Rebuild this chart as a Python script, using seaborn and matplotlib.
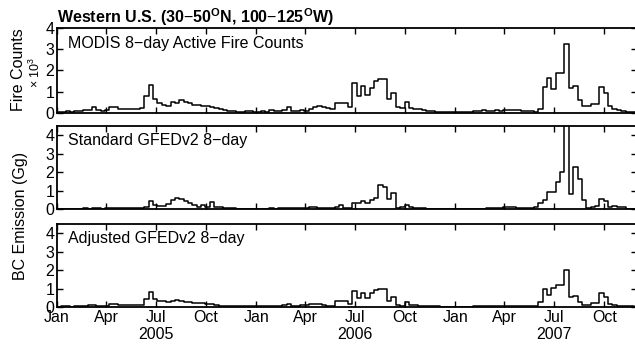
import matplotlib
matplotlib.use("Agg")
import numpy as np
import pandas as pd
import seaborn as sns
import matplotlib.pyplot as plt

# 8-day composites starting Jan 1 of each year (46 per year, 2007 shown to late Nov)
years = [2005, 2006, 2007]

# MODIS active fire counts (x 10^3)
fire_2005 = [0.03, 0.06, 0.08, 0.06, 0.08, 0.1, 0.12, 0.15, 0.26, 0.12, 0.08, 0.12,
             0.3, 0.28, 0.2, 0.2, 0.2, 0.2, 0.2, 0.22,
             0.82, 1.3, 0.65, 0.45, 0.4, 0.35, 0.5, 0.45, 0.62, 0.5, 0.45, 0.4,
             0.38, 0.35, 0.33, 0.3,
             0.25, 0.2, 0.15, 0.1, 0.08, 0.06, 0.05, 0.08, 0.1, 0.05]
fire_2006 = [0.05, 0.1, 0.05, 0.12, 0.08, 0.1, 0.12, 0.3, 0.1, 0.1, 0.12, 0.1,
             0.2, 0.3, 0.33, 0.28, 0.25, 0.2,
             0.48, 0.48, 0.48, 0.3,
             1.41, 0.78, 1.29, 0.86, 1.19, 1.49, 1.6, 1.6, 0.65, 0.95, 0.3, 0.23,
             0.5, 0.25,
             0.2, 0.18, 0.12, 0.1, 0.08, 0.05, 0.04, 0.03, 0.03, 0.03]
fire_2007 = [0.03, 0.03, 0.03, 0.03, 0.08, 0.08, 0.15, 0.08, 0.08, 0.12, 0.08, 0.12,
             0.12, 0.15, 0.15, 0.08, 0.08, 0.08, 0.05, 0.2,
             1.22, 1.65, 1.13, 1.86, 1.86, 3.27, 1.17, 1.29, 0.62, 0.33, 0.33, 0.43,
             0.43, 1.22, 0.94, 0.33,
             0.2, 0.12, 0.08, 0.05, 0.03, 0.03]

# Standard GFEDv2 BC emission (Gg)
std_2005 = [0.01, 0.01, 0.02, 0.01, 0.02, 0.02, 0.03, 0.02, 0.05, 0.03, 0.02, 0.05,
            0.06, 0.04, 0.03, 0.04, 0.04, 0.05, 0.06, 0.08, 0.1,
            0.45, 0.2, 0.15, 0.15, 0.25, 0.48, 0.58, 0.55, 0.45, 0.35, 0.22, 0.13,
            0.22, 0.13, 0.4, 0.1, 0.1, 0.08, 0.05,
            0.03, 0.02, 0.02, 0.02, 0.02, 0.02]
std_2006 = [0.02, 0.02, 0.02, 0.03, 0.02, 0.05, 0.03, 0.08, 0.05, 0.03,
            0.05, 0.05, 0.12, 0.12, 0.05, 0.05, 0.05, 0.05, 0.12, 0.2, 0.05, 0.05,
            0.3, 0.34, 0.45, 0.34, 0.48, 0.58, 1.3, 1.17, 0.52, 0.85, 0.04, 0.1,
            0.22, 0.1,
            0.06, 0.05, 0.03, 0.02, 0.02, 0.02, 0.01, 0.01, 0.01, 0.01]
std_2007 = [0.01, 0.01, 0.01, 0.01, 0.01, 0.02, 0.02, 0.07, 0.03, 0.05, 0.03, 0.12,
            0.12, 0.12, 0.08, 0.05, 0.05, 0.05,
            0.12, 0.3, 0.48, 0.93, 0.93, 1.47, 2.0, 5.6,
            0.8, 2.28, 1.6, 0.5, 0.08, 0.12, 0.15, 0.55, 0.45, 0.12,
            0.15, 0.12, 0.1, 0.02, 0.02, 0.02]

# Adjusted GFEDv2 BC emission (Gg)
adj_2005 = [0.02, 0.03, 0.03, 0.02, 0.03, 0.05, 0.08, 0.1, 0.12, 0.06, 0.05, 0.06,
            0.15, 0.15, 0.12, 0.1, 0.1, 0.1, 0.1, 0.12,
            0.46, 0.8, 0.42, 0.3, 0.3, 0.25, 0.35, 0.38, 0.3, 0.28, 0.25, 0.22,
            0.22, 0.2, 0.15, 0.18, 0.12,
            0.08, 0.06, 0.05, 0.04, 0.05, 0.03, 0.05, 0.04, 0.03]
adj_2006 = [0.03, 0.05, 0.03, 0.06, 0.05, 0.08, 0.12, 0.15, 0.06, 0.05,
            0.12, 0.13, 0.18, 0.18, 0.15, 0.1, 0.08, 0.08,
            0.3, 0.3, 0.3, 0.15,
            0.87, 0.5, 0.78, 0.5, 0.74, 0.93, 0.96, 0.96, 0.31, 0.56, 0.13, 0.08,
            0.26, 0.13,
            0.1, 0.08, 0.06, 0.04, 0.03, 0.03, 0.02, 0.02, 0.02, 0.02]
adj_2007 = [0.02, 0.02, 0.02, 0.02, 0.03, 0.03, 0.05, 0.04, 0.06, 0.08, 0.05, 0.06,
            0.08, 0.06, 0.07, 0.05, 0.05, 0.05,
            0.08, 0.25, 0.96, 0.63, 1.05, 1.18, 1.18, 1.98, 0.56, 0.6, 0.26, 0.13,
            0.13, 0.2, 0.2, 0.74, 0.56, 0.18,
            0.1, 0.08, 0.05, 0.04, 0.03, 0.02]

panel_names = ["MODIS 8\u2212day Active Fire Counts",
               "Standard GFEDv2 8\u2212day",
               "Adjusted GFEDv2 8\u2212day"]
panel_series = [[fire_2005, fire_2006, fire_2007],
                [std_2005, std_2006, std_2007],
                [adj_2005, adj_2006, adj_2007]]
panel_ymax = [4, 4.5, 4.5]

tick_dates = ["2005-01-01", "2005-04-01", "2005-07-01", "2005-10-01",
              "2006-01-01", "2006-04-01", "2006-07-01", "2006-10-01",
              "2007-01-01", "2007-04-01", "2007-07-01", "2007-10-01"]
tick_labels = ["Jan", "Apr", "Jul\n2005", "Oct",
               "Jan", "Apr", "Jul\n2006", "Oct",
               "Jan", "Apr", "Jul\n2007", "Oct"]


def to_frame(series):
    dates, vals = [], []
    for year, v in zip(years, series):
        d = pd.date_range(f"{year}-01-01", periods=len(v), freq="8D")
        dates.extend(d)
        vals.extend(v)
    # close the last step
    dates.append(dates[-1] + pd.Timedelta(days=8))
    vals.append(vals[-1])
    return pd.DataFrame({"date": dates, "value": vals})


sns.set_theme(style="ticks")
plt.rcParams["font.family"] = ["Liberation Sans", "DejaVu Sans"]
plt.rcParams["mathtext.fontset"] = "custom"
plt.rcParams["mathtext.rm"] = "Liberation Sans"
plt.rcParams["mathtext.bf"] = "Liberation Sans:bold"
plt.rcParams["text.color"] = "black"
plt.rcParams["axes.labelcolor"] = "black"
plt.rcParams["xtick.color"] = "black"
plt.rcParams["ytick.color"] = "black"
font_size = 11.5

fig = plt.figure(figsize=(6.35, 3.46), dpi=100)
# axes run slightly past the right edge of the image, as in the original
rects = [[0.0898, 0.6734, 0.9134, 0.2457],
         [0.0898, 0.3960, 0.9134, 0.2399],
         [0.0898, 0.1127, 0.9134, 0.2399]]

x0, x1 = pd.Timestamp("2005-01-01"), pd.Timestamp("2007-11-30")
ticks = pd.to_datetime(tick_dates)

for i, (rect, name, series, ymax) in enumerate(zip(rects, panel_names,
                                                    panel_series, panel_ymax)):
    ax = fig.add_axes(rect)
    df = to_frame(series)
    sns.lineplot(data=df, x="date", y="value", ax=ax, color="black",
                 linewidth=1.1, drawstyle="steps-post")
    ax.set_xlim(x0, x1)
    ax.set_ylim(0, ymax)
    ax.set_yticks([0, 1, 2, 3, 4])
    ax.set_xticks(ticks)
    ax.set_xlabel("")
    ax.set_ylabel("")
    for s in ax.spines.values():
        s.set_linewidth(1.3)
        s.set_color("black")
    ax.tick_params(direction="in", length=4, width=1, top=True, right=True,
                   labelsize=font_size, pad=2, colors="black")
    if i < 2:
        ax.set_xticklabels([])
    else:
        ax.set_xticklabels(tick_labels, linespacing=1.15)
    ax.text(0.019, 0.91, name, transform=ax.transAxes, ha="left", va="top",
            fontsize=font_size, color="black")
    if i == 0:
        ax.set_title(r"Western U.S. (30$-$50$^{\mathbf{O}}$N, 100$-$125$^{\mathbf{O}}$W)",
                     loc="left", fontweight="bold", fontsize=font_size, pad=1,
                     color="black")

fig.text(18.5 / 635, 1 - 70 / 346, "Fire Counts", rotation=90, ha="center",
         va="center", fontsize=font_size, color="black")
fig.text(35 / 635, 1 - 72 / 346, "\u00d7 10$^{3}$", rotation=90, ha="center",
         va="center", fontsize=9, color="black")
fig.text(21 / 635, 1 - 216 / 346, "BC Emission (Gg)", rotation=90, ha="center",
         va="center", fontsize=font_size, color="black")

fig.savefig("out.png", dpi=100)
